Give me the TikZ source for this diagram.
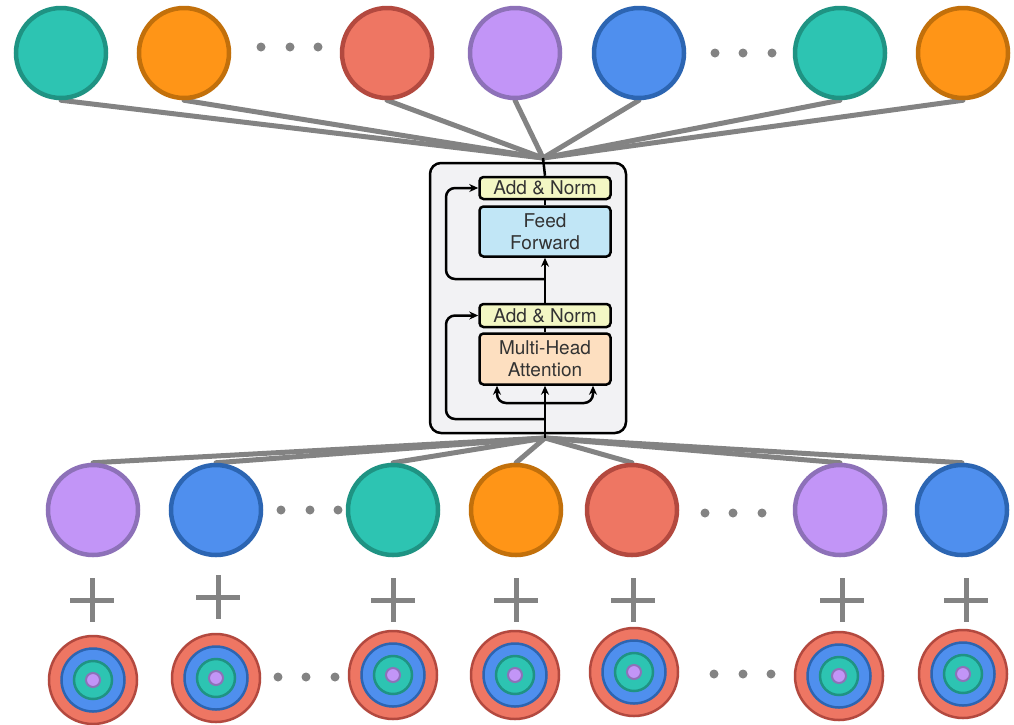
\documentclass[tikz,border=0pt]{standalone}
\usepackage{fontspec}
\setmainfont{TeX Gyre Heros}
\usetikzlibrary{arrows.meta}
\pgfdeclarelayer{bg}
\pgfsetlayers{bg,main}

\definecolor{tealF}{HTML}{2DC4B2}\definecolor{tealB}{HTML}{1F9383}
\definecolor{orgF}{HTML}{FF9517}\definecolor{orgB}{HTML}{C2700B}
\definecolor{redF}{HTML}{EE7663}\definecolor{redB}{HTML}{B3493F}
\definecolor{purF}{HTML}{C295F7}\definecolor{purB}{HTML}{8D71B8}
\definecolor{bluF}{HTML}{4F8FEE}\definecolor{bluB}{HTML}{2C65B2}
\definecolor{linegray}{HTML}{838383}
\definecolor{panel}{HTML}{F2F2F4}
\definecolor{normF}{HTML}{F3F7C4}
\definecolor{ffF}{HTML}{C1E6F6}
\definecolor{mhaF}{HTML}{FDDFC0}

\tikzset{
  token/.style={circle, minimum size=90pt, inner sep=0pt, line width=4.5pt},
  tealc/.style={fill=tealF, draw=tealB},
  orgc/.style={fill=orgF, draw=orgB},
  redc/.style={fill=redF, draw=redB},
  purc/.style={fill=purF, draw=purB},
  bluc/.style={fill=bluF, draw=bluB},
  conn/.style={draw=linegray, line width=5pt, line cap=round},
  dotn/.style={circle, fill=linegray, minimum size=9pt, inner sep=0pt},
  plussign/.style={draw=linegray, line width=5pt},
  ring/.style={circle, inner sep=0pt, line width=2.5pt},
  layerbox/.style={draw=black, line width=2.5pt, rounded corners=4pt,
    minimum width=131pt, inner sep=0pt, align=center,
    font=\fontsize{19}{22}\selectfont, text=black!80},
  wire/.style={draw=black, line width=2.5pt},
  arr/.style={wire, -{Stealth[length=9pt,width=8pt]}},
}

\begin{document}
\begin{tikzpicture}[x=1pt, y=-1pt]
\useasboundingbox (0,0) rectangle (1014,724);

% encoder block
\node[draw=black, line width=2.5pt, rounded corners=11pt, fill=panel,
  minimum width=196pt, minimum height=270pt, inner sep=0pt] (block) at (528,298) {};
\node[layerbox, fill=normF, minimum height=22pt] (an1) at (545,188) {Add \& Norm};
\node[layerbox, fill=ffF, minimum height=50pt] (ff) at (545,231.5) {Feed\\Forward};
\node[layerbox, fill=normF, minimum height=23pt] (an2) at (545,315.5) {Add \& Norm};
\node[layerbox, fill=mhaF, minimum height=51pt] (mha) at (545,359) {Multi-Head\\Attention};

\coordinate (top) at (543,158);
\coordinate (bot) at (545,438);

% sublayer wiring
\draw[arr] (bot) -- (mha.south);
\draw[arr, rounded corners=9pt] (545,403) -| (mha.south -| 497,0);
\draw[arr, rounded corners=9pt] (545,403) -| (mha.south -| 593,0);
\draw[arr, rounded corners=9pt] (545,419) -| (446,360) |- (an2.west);
\draw[wire] (mha.north) -- (an2.south);
\draw[arr] (an2.north) -- (ff.south);
\draw[arr, rounded corners=9pt] (545,279) -| (446,230) |- (an1.west);
\draw[wire] (ff.north) -- (an1.south);
\draw[wire] (an1.north) -- (top);

% output tokens
\foreach \i/\x/\c in {1/61/tealc, 2/184/orgc, 3/387/redc, 4/515/purc,
                      5/639/bluc, 6/840/tealc, 7/963/orgc}
  \node[token, \c] (t\i) at (\x,53) {};

% input tokens
\foreach \i/\x/\c in {1/93/purc, 2/216/bluc, 3/393/tealc, 4/516/orgc,
                      5/632/redc, 6/840/purc, 7/962/bluc}
  \node[token, \c] (b\i) at (\x,510) {};

\begin{pgfonlayer}{bg}
  \foreach \i in {1,...,7} {
    \draw[conn] (t\i.south) -- (top);
    \draw[conn] (b\i.north) -- (bot);
  }
\end{pgfonlayer}

% ellipses
\node[dotn] (ta) at (261,47) {}; \node[dotn] (tb) at (290,47) {}; \node[dotn] (tc) at (318,47) {};
\node[dotn] (td) at (715,53) {}; \node[dotn] (te) at (743,53) {}; \node[dotn] (tf) at (772,53) {};
\node[dotn] (ba) at (281,510) {}; \node[dotn] (bb) at (310,510) {}; \node[dotn] (bc) at (338,510) {};
\node[dotn] (bd) at (705,513) {}; \node[dotn] (be) at (733,513) {}; \node[dotn] (bf) at (762,513) {};
\node[dotn] (pa) at (278,677) {}; \node[dotn] (pb) at (306,677) {}; \node[dotn] (pc) at (335,677) {};
\node[dotn] (pd) at (714,674) {}; \node[dotn] (pe) at (743,674) {}; \node[dotn] (pf) at (771,674) {};

% plus signs
\foreach \x/\y in {92/600, 218/597, 393/600, 516/600, 633/600, 842/600, 966/600}
  \draw[plussign] (\x-22,\y) -- (\x+22,\y) (\x,\y-22) -- (\x,\y+22);

% positional encodings
\foreach \i/\x/\y in {1/93/680, 2/216/678, 3/393/675, 4/515/675,
                      5/634/672, 6/839/676, 7/963/674} {
  \node[ring, fill=redF, draw=redB, minimum size=88pt] (pe\i) at (\x,\y) {};
  \node[ring, fill=bluF, draw=bluB, minimum size=63pt] (pb\i) at (pe\i) {};
  \node[ring, fill=tealF, draw=tealB, minimum size=38pt] (pt\i) at (pe\i) {};
  \node[ring, fill=purF, draw=purB, minimum size=14pt, line width=2pt] (pp\i) at (pe\i) {};
}
\end{tikzpicture}
\end{document}
